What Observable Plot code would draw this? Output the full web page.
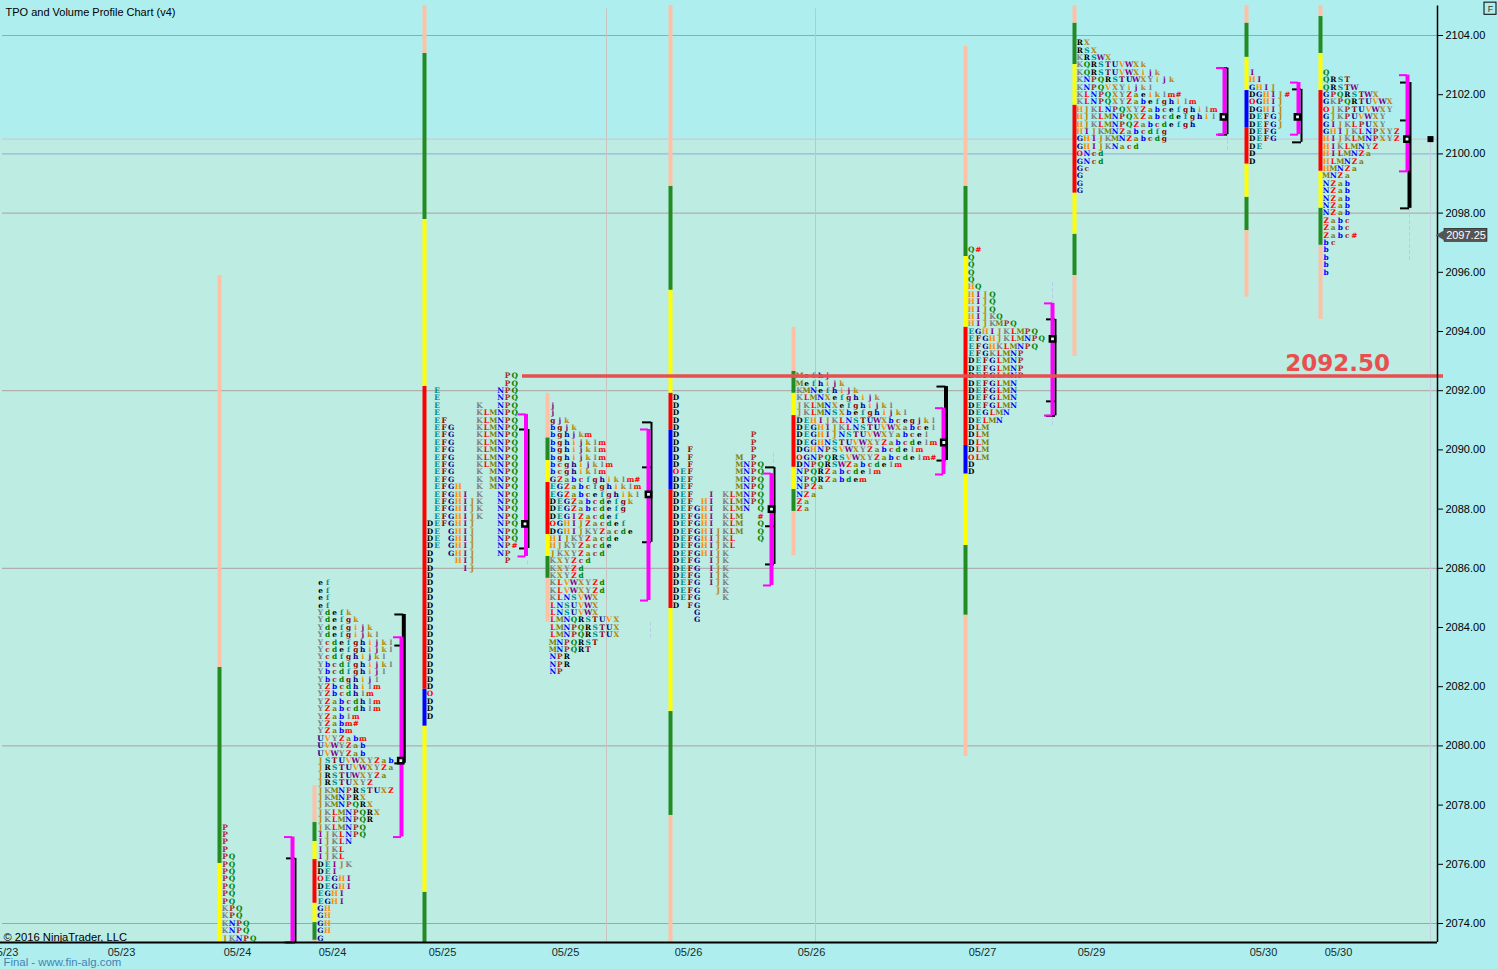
<!DOCTYPE html>
<html>
<head>
<meta charset="utf-8">
<style>html,body{margin:0;padding:0;background:#AFEEEE}svg{display:block}</style>
<script src="https://cdn.jsdelivr.net/npm/d3@7"></script>
<script src="https://cdn.jsdelivr.net/npm/@observablehq/plot@0.6"></script>
</head>
<body>
<div id="chart"></div>
<script>
// TPO profiles: rows read top to bottom, one row per 0.25 point; a space is an empty column
const profile1 = ["P","P","P","P","PQ","PQ","PQ","PQ","PQ","PQ","PQ","KPQ","KPQ","KNPQ","KNPQ","JKNPQ"];
const profile2 = ["ef","ef","ef","ef","Ydefk","Ydefgk","Ydefgijk","Ydefgijkl","Ycdefghijkl","Ycdefghijkl","Ycdfghijkl","Ybcdfghijkl","Ybcdfghijl","Ybcdghijl","YZbcdhilm","YZbcdhlm","YZabcdhlm","YZabcdhlm","YZablm","YZabm#","YZabm","UVYZabm","UVWYZab","UVWYZab","JSTUVWXYZab","JRSTUVWXYZa","JRSTUWXYZa","JRSTUXYZ","JKMNPRSTUXZ","JKMNPRX","JKMNPQRX","JKLMNPQRX","JKLMNPQR","JKLMNPQ","IJKLNPQ","IJKLN","IJKL","IJKL","DEIJK","DEI","OEGHI","DEGHI","EGHI","EGHI","GH","GH","GH","GH","G"];
const profile3 = ["           PQ","           PQ"," E        NPQ"," E        NPQ"," E     K  NPQ"," E     KLMNPQ"," EF    KLMNPQ"," EFG   KLMNPQ"," EFG   KLMNPQ"," EFG   KLMNPQ"," EFG   KLMNPQ"," EFG   KLMNPQ"," EFG   KLMNPQ"," EFG   K MNPQ"," EFG   K MNPQ"," EFGH  K MNPQ"," EFGHI K  NPQ"," EFGHIJK  NPQ"," EFGHIJK  NPQ"," EFGHIJK  NPQ","DEFGHIJ   NPQ","DE GHIJ   NPQ","DE GHIJ   NPQ","DE GHIJ   NP#","D  GHIJ   NP","D   HIJ    P","D    IJ","D","D","D","D","D","D","D","D","D","D","D","D","D","D","D","D","O","D","D","D"];
const profile4 = ["j","j","gjk","bgjk","bghjkm","bghijklm","bghijklm","bghijklm","bcghijklm","bcghiklm","GZabcfghiklm#","EGZabcfghiklm","EGZabcefghikl","DEGZabcdefgk","DEGZabcdefg","DEGIZacdef","OGHIJZacdef","DGHIJKYZacde","HIJKYZacde","HJKYZacde","JKXYZacd","KXYZcd","KXYZd","KXYZd","KLVWXYZd","KLVWXYZd","KLNSVWX","LNSUVWX","LNSUVWX","LMNQRSTUVX","LMNPQRSTUX","LMNPQRSTUX","MNPQRST","MNPQRT","NPR","NPR","NP"];
const profile5 = ["D","D","D","D","D","D          P","D          P","D F        P","D F      M P","D F      MNPQ","OEF      MNPQ","DEF      MNPQ","DEF      MNPQ","DEF  I KLMNPQ","DEF HI KLMNPQ","DEFGHI KLMN Q","DEFGHI KLM  #","DEFGHI KLM  Q","DEFGHIJKLM  Q","DEFGHIJKL   Q","DEFGHIJKL","DEFGHIJK","DEFG IJK","DEFG IJK","DEFG IJK","DEFG IJK","DEFG  JK","DEFG   K","D FG","   G","   G"];
const profile6 = ["Mefhj","Mefhijk","KMNefhijk","KLMNXefghijk","JKLMNXefghijkl","JKLMNSXbefghijkl","DEHIJKLNSTUWXbcegjkl","DEGHIJKLNSTUVWXabcel","DEGHIJNSTUVWXYabcel","DEGHNSTUVWXYZabcdelm","DGHNPSVWXYZabcdelm","OGNPQRSVWXYZabcdelm#","DNPQRSWZabcdelm","NPQRZabcdelm","NPQRZabdem","NPZa","NZa","Za","Za"];
const profile7 = ["Q#","Q","Q","Q","Q","HQ","HIJQ","HIJQ","HIJQ","HIJKQ","HIJKMPQ","EGHIJKLMPQ","EFGHJKLMNPQ","EFGHKLMNPQ","EFGKLMNP","DEFGLMNP","DEFGLMNP","DEFGLMNP","DEFGLMN","DEFGLMN","DEFGLMN","DEFGLMN","DEGLMN","DELMN","DLM","DLM","DLM","DLM","OLM","D","D"];
const profile8 = ["RX","RSX","KRSWX","KQRSTUVWXk","KQRSTUVWXijk","KNPQRSTUWXYijk","KNPQVXYijkl","KLNPQXYZaeiklm#","KLNPQXYZabefghilm","HJKLNPQXYZabcefghilm","HJKLMNPQXZabcdefghil","HJKLMNPQZabcdefgh","HIJKMNZabcdfg","GHIJKMNZabcdg","GHIJKNacd","ONcd","GNcd","Gc","G","G","G"];
const profile9 = ["I","HI","GHIJ","DGHIJ#","OGHIJ","DGHIJ","DEFGJ","DEFGJ","DEFG","DEFG","DE","D","D"];
const profile10 = ["Q","QRST","QRSTW","GPQRSTWX","GKPQRTUVWX","OJKPTUVWXY","GJKPUVWXY","GIJKLPUXY","GHIJKLNPXYZ","HIJKLMNPXYZ","HIKLMNYZ","HILMNZa","HLMNZa","HMNZa","MNZa","NZab","NZab","NZab","NZab","NZab","Zabc","Zabc","Zabc#","bc","b","b","b","b"];
const profileRows = [profile1,profile2,profile3,profile4,profile5,profile6,profile7,profile8,profile9,profile10];
const profileTop = [2077.25,2085.5,2092.5,2091.5,2091.75,2092.5,2096.75,2103.75,2102.75,2102.75];
const profileX = [224.5,320,429.5,552.3,675.5,799,970.7,1079.3,1251.7,1325.7];

// colour cycle of the TPO letters
const letterCycle = ["DRe","ESf","FTg","GUh","HVi","IWj","JXk","KYl","LZm","Ma","Nb","Pc","Qd"];
const cycleColors = ["#000000","#008B8B","#8B0000","#00008B","#FF8C00","#800080","#B8860B","#808080","#FF0000","#808000","#0000FF","#A52A2A","#008000"];
const markColor = "#FF0000"; // O and #

// session bars: boundaries in price, top to bottom, and the colour of each piece
const PE="#FFC1A6",GR="#228B22",YE="#FFFF00",RD="#FF0000",BL="#0000FF";
const barX = [219,314,424,547,670,793,965,1074,1246,1320];
const barPrices = [
 [2095.89,2082.65,2076.03,2073.36],
 [2078.66,2077.41,2076.77,2076.16,2074.68,2074.03,2073.43,2073.36],
 [2105.01,2103.39,2097.78,2092.14,2081.91,2080.66,2075.05,2073.36],
 [2091.91,2090.4,2089.64,2088.9,2087.14,2086.4,2085.66,2084.18],
 [2105.01,2098.9,2095.39,2091.91,2090.66,2088.66,2084.64,2081.16,2077.65,2073.36],
 [2094.14,2092.65,2091.91,2091.16,2089.41,2088.66,2087.92,2086.43],
 [2103.63,2098.9,2096.53,2094.14,2090.15,2089.18,2086.77,2084.41,2079.64],
 [2105.01,2104.41,2103.02,2101.64,2098.67,2097.28,2095.89,2093.16],
 [2105.01,2104.41,2103.26,2102.14,2100.89,2099.65,2098.53,2097.41,2095.16],
 [2105.01,2104.64,2103.39,2102.14,2099.41,2098.16,2096.91,2094.41]
];
const barColors = [
 [PE,GR,YE],
 [PE,GR,YE,RD,YE,GR,PE],
 [PE,GR,YE,RD,BL,YE,GR],
 [PE,GR,YE,RD,YE,GR,PE],
 [PE,GR,YE,RD,BL,RD,YE,GR,PE],
 [PE,GR,YE,RD,YE,GR,PE],
 [PE,GR,YE,RD,BL,YE,GR,PE],
 [PE,GR,YE,RD,YE,GR,PE],
 [PE,GR,YE,BL,RD,YE,GR,PE],
 [PE,GR,YE,RD,YE,GR,PE]
];

// value-area brackets
const magentaX = [292,401,525.5,648,771,943,1052,1224,1298,1407];
const magentaTop = [2076.92,2083.67,2091.2,2090.69,2089.2,2091.41,2094.95,2102.9,2102.41,2102.66];
const magentaBottom = [2073.36,2076.92,2086.4,2084.91,2085.42,2089.17,2091.16,2100.65,2100.65,2099.41];
const blackX = [295,403.3,528,651,774,945.5,1055,1227,1301,1409];
const blackTop = [2076.2,2084.44,2090.69,2090.93,2089.41,2092.14,2094.41,2102.9,2102.18,2102.41];
const blackBottom = [2073.36,2079.41,2086.67,2086.88,2086.13,2089.64,2091.15,2100.65,2100.39,2098.16];
const blackMid = [[],[2083.39],[],[2089.41],[2087.42],[],[2091.64],[],[],[2101.13]];
const blackWeight = [2,4,2,2,2,4,2,2,2,4];
const pocX = [400.3,524.5,648,771,943.3,1052,1223,1297,1406.5];
const pocPrice = [2079.5,2087.5,2088.5,2088,2090.25,2093.75,2101.25,2101.25,2100.5];

// faint tails below the brackets
const tailX = [1409,1227,1052,1052,650,527,405,773,946];
const tailTop = [2098.16,2100.65,2095.65,2091.16,2084.17,2086.25,2083.6,2089.88,2089.6];
const tailBottom = [2096.4,2100.1,2094.95,2090.82,2083.66,2086.05,2083.4,2089.54,2089.4];

const axisTicks = [2074,2076,2078,2080,2082,2084,2086,2088,2090,2092,2094,2096,2098,2100,2102,2104];
const gridPrices = [2104,2098,2092,2086,2080,2074];
const dateLabels = ["05/23","05/23","05/24","05/24","05/25","05/25","05/26","05/26","05/27","05/29","05/30","05/30"];
const dateX = [4,121,237,332,442,565,688,811,982,1091,1263,1338];
const bandBg = "#BDECE3";

const letterColor = c => {
  if (c === "O" || c === "#") return markColor;
  const i = letterCycle.findIndex(s => s.includes(c));
  return cycleColors[i];
};
const colStep = 7.05, tick = 0.25;
const letters = profileRows.flatMap((rows, p) => rows.flatMap((row, r) =>
  [...row].map((c, k) => ({c, x: profileX[p] + k * colStep, y: profileTop[p] - r * tick, col: letterColor(c)})).filter(d => d.c !== " ")));
const barPieces = barPrices.flatMap((ps, i) => barColors[i].map((col, j) => ({x: barX[i], y1: ps[j], y2: ps[j+1], col})));
const idx = d3.range(10);
const blackTicks = idx.flatMap(i => [blackTop[i], blackBottom[i], ...blackMid[i]].map(y => ({x: blackX[i], y})));
const magentaTicks = idx.flatMap(i => [magentaTop[i], magentaBottom[i]].map(y => ({x: magentaX[i], y})));

const chart = Plot.plot({
  width: 1498, height: 969, margin: 0,
  x: {domain: [0, 1498], range: [0, 1498], axis: null},
  y: {domain: [2074, 2104], range: [923, 35], axis: null},
  color: {type: "identity"},
  style: {background: "#AFEEEE", fontFamily: "Liberation Sans, Arial, sans-serif"},
  marks: [
    Plot.rect([0], {x1: 0, x2: 1437, y1: 2100.5, y2: 2073.36, fill: bandBg}),
    // grid
    Plot.ruleY(gridPrices, {x1: 2, x2: 1437, stroke: "#AAA2A2", strokeWidth: 1}),
    Plot.ruleY([2100], {x1: 2, x2: 1437, stroke: "#8FA8D8", strokeWidth: 1}),
    Plot.ruleY([2100.5], {x1: 2, x2: 1437, stroke: "#D0C0D0", strokeWidth: 1}),
    Plot.ruleX([606, 815], {y1: 2104.9, y2: 2073.36, stroke: "#C8C2C0", strokeWidth: 1}),
    Plot.ruleX([1430], {y1: 2100.5, y2: 2073.36, stroke: "#C4D0E4", strokeWidth: 1}),
    Plot.ruleX(tailX, {y1: (d, i) => tailTop[i], y2: (d, i) => tailBottom[i], stroke: "#B8CCE8", strokeWidth: 1, strokeDasharray: "4,2"}),
    // session bars
    Plot.ruleX(barPieces, {x: "x", y1: "y1", y2: "y2", stroke: "col", strokeWidth: 4}),
    // TPO letters
    Plot.text(letters, {x: "x", y: "y", text: "c", fill: "col", fontFamily: "DejaVu Serif, serif", fontWeight: "bold", fontSize: 7.4, lineAnchor: "middle", textAnchor: "middle"}),
    // black bracket
    Plot.ruleX(idx, {x: i => blackX[i], y1: i => blackTop[i], y2: i => blackBottom[i], stroke: "#000", strokeWidth: i => blackWeight[i]}),
    Plot.ruleY(blackTicks, {x1: d => d.x - 9, x2: d => d.x, y: "y", stroke: "#000", strokeWidth: 2}),
    // magenta bracket
    Plot.ruleX(idx, {x: i => magentaX[i], y1: i => magentaTop[i], y2: i => magentaBottom[i], stroke: "#FF00FF", strokeWidth: 4}),
    Plot.ruleY(magentaTicks, {x1: d => d.x - 8, x2: d => d.x, y: "y", stroke: "#FF00FF", strokeWidth: 2}),
    // point of control boxes
    Plot.dot(pocPrice, {x: (d, i) => pocX[i], y: d => d, symbol: "square", r: 3, fill: "#E6F8F4", stroke: "#000", strokeWidth: 2.5}),
    Plot.dot([2100.5], {x: 1430, y: d => d, symbol: "square", r: 3.4, fill: "#000"}),
    // red level
    Plot.ruleY([2092.5], {x1: 522, x2: 1443, stroke: "#E85050", strokeWidth: 3.5}),
    Plot.text(["2092.50"], {x: 1337, y: 2092.93, text: d => d, fill: "#E85050", fontFamily: "DejaVu Sans, sans-serif", fontSize: 23, fontWeight: "bold", lineAnchor: "middle"}),
    // axes
    Plot.ruleY([2073.36], {x1: 0, x2: 1437, stroke: "#000", strokeWidth: 2}),
    Plot.ruleX([1437], {y1: 2105, y2: 2073.36, stroke: "#000", strokeWidth: 1.5}),
    Plot.ruleY(axisTicks, {x1: 1437, x2: 1443, stroke: "#000"}),
    Plot.text(axisTicks, {x: 1445, y: d => d, text: d => d.toFixed(2), textAnchor: "start", lineAnchor: "middle", fontSize: 11, fill: "#000"}),
    Plot.text(dateLabels, {x: (d, i) => dateX[i], text: d => d, frameAnchor: "bottom", dy: -17, lineAnchor: "middle", fontSize: 11, fill: "#1a2a2a"}),
    // price tag
    Plot.rect([2097.25], {x1: 1444, x2: 1487, y1: 2097.03, y2: 2097.47, fill: "#555", stroke: "#000", strokeWidth: 0.5}),
    Plot.dot([2097.25], {x: 1443, y: d => d, symbol: "triangle", rotate: -90, r: 5, fill: "#555"}),
    Plot.text([2097.25], {x: 1465.5, y: d => d, text: d => d.toFixed(2), fill: "#fff", fontSize: 11, lineAnchor: "middle"}),
    // F box
    Plot.rect(["F"], {x1: 1484, x2: 1496, y1: 2104.7, y2: 2105.11, fill: "none", stroke: "#000"}),
    Plot.text(["F"], {x: 1490, y: 2104.9, text: d => d, fontSize: 9, fill: "#333", lineAnchor: "middle"}),
    // captions
    Plot.text(["TPO and Volume Profile Chart (v4)"], {text: d => d, frameAnchor: "top-left", dx: 5, dy: 12, lineAnchor: "middle", fontSize: 11, fill: "#000"}),
    Plot.text(["© 2016 NinjaTrader, LLC"], {text: d => d, frameAnchor: "bottom-left", dx: 3, dy: -32, lineAnchor: "middle", fontSize: 11.2, fill: "#000"}),
    Plot.text(["Final - www.fin-alg.com"], {text: d => d, frameAnchor: "bottom-left", dx: 3, dy: -7, lineAnchor: "middle", fontSize: 11.4, fill: "#4682B4"})
  ]
});
document.getElementById("chart").appendChild(chart);
</script>
</body>
</html>
